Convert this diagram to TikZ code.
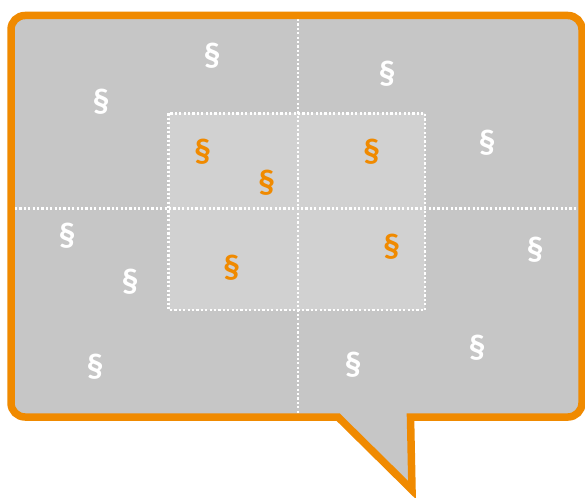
\documentclass[tikz,border=0pt]{standalone}
\usepackage{fontspec}
\setmainfont{Carlito}
\definecolor{bubbleorange}{HTML}{F08A00}
\definecolor{bubblegray}{HTML}{C6C6C6}
\definecolor{innergray}{HTML}{D1D1D1}
\tikzset{
  sym/.style={font=\fontsize{34}{36}\selectfont\bfseries, inner sep=0pt},
  wsym/.style={sym, text=white},
  osym/.style={sym, text=bubbleorange},
  dotline/.style={white, line width=2.4, dash pattern=on 2.2 off 2.2},
  bubblepath/.style={line width=7.5, line join=miter, miter limit=10}
}
\begin{document}
\begin{tikzpicture}[x=1pt,y=-1pt]
\useasboundingbox (0,0) rectangle (585,497);
% fill
\fill[bubblegray] (338,417) [rounded corners=14] -- (11,417) -- (11,15.5) -- (582,15.5) -- (582,417) [sharp corners] -- (410.5,417) -- (412,490) -- cycle;
% inner square
\fill[innergray] (168.5,113.5) rectangle (425,310);
% dotted lines
\draw[dotline] (168.5,113.5) rectangle (425,310);
\coordinate (vt) at (297.8,19);
\coordinate (vb) at (297.8,413);
\coordinate (hl) at (15,208.3);
\coordinate (hr) at (578,208.3);
\draw[dotline] (vt) -- (vb);
\draw[dotline] (hl) -- (hr);
% border
\draw[bubbleorange, bubblepath] (338,417) [rounded corners=14] -- (11,417) -- (11,15.5) -- (582,15.5) -- (582,417) [sharp corners] -- (410.5,417) -- (412,490) -- cycle;
% white symbols
\node[wsym] (w1) at (212,56) {§};
\node[wsym] (w2) at (101,102) {§};
\node[wsym] (w3) at (387,74) {§};
\node[wsym] (w4) at (487,143) {§};
\node[wsym] (w5) at (67,236) {§};
\node[wsym] (w6) at (130,282) {§};
\node[wsym] (w7) at (535,250) {§};
\node[wsym] (w8) at (95,367) {§};
\node[wsym] (w9) at (353,365) {§};
\node[wsym] (w10) at (477,348) {§};
% orange symbols
\node[osym] (o1) at (202.5,151.5) {§};
\node[osym] (o2) at (266.5,183) {§};
\node[osym] (o3) at (371.5,151.5) {§};
\node[osym] (o4) at (391.5,246.5) {§};
\node[osym] (o5) at (231.5,267.5) {§};
\end{tikzpicture}
\end{document}
